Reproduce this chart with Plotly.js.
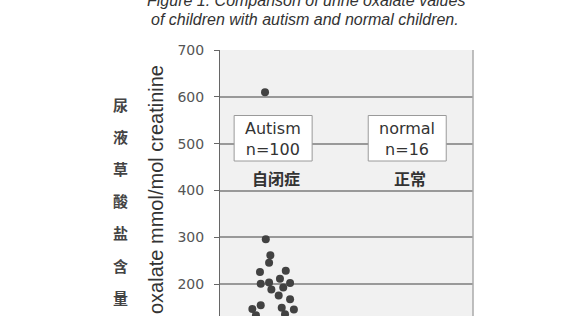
<!DOCTYPE html>
<html>
<head>
<meta charset="utf-8">
<script src="https://cdn.plot.ly/plotly-3.0.1.min.js"></script>
<style>
html,body{margin:0;padding:0;width:576px;height:316px;overflow:hidden;background:#fff;}
#chart{width:576px;height:420px;}
</style>
</head>
<body>
<div id="chart"></div>
<script>
// ---- data ----
const groups = ["Autism", "normal"];
const groupN = [100, 16];
const groupCN = ["自闭症", "正常"];
// horizontal beeswarm positions (axis units, 0..1 across the plot) and values
const autismX = [0.178, 0.181, 0.199, 0.194, 0.158, 0.260, 0.237, 0.161, 0.194, 0.277,
                 0.203, 0.250, 0.232, 0.277, 0.128, 0.161, 0.244, 0.292, 0.142, 0.257];
const autismY = [610, 296, 262, 246, 226, 229, 212, 201, 204, 203,
                 189, 193, 176, 168, 147, 155, 150, 146, 134, 136];
const groupCenterX = [0.21, 0.74];
const yTicks = [0, 100, 200, 300, 400, 500, 600, 700];
const titleLines = ["Figure 1. Comparison of urine oxalate values",
                    "of children with autism and normal children."];
const yTitle = "oxalate mmol/mol creatinine";
const yTitleCN = ["尿", "液", "草", "酸", "盐", "含", "量"];

// ---- layout helpers (pixel -> paper) ----
const W = 576, H = 420, ML = 220, MR = 576 - 473, MT = 50, MB = 42;
const PW = W - ML - MR, PH = H - MT - MB;
const px = p => (p - ML) / PW;
const py = p => (H - MB - p) / PH;

const font = "Liberation Sans, Arial, sans-serif";
const wide = "DejaVu Sans, sans-serif";
const cjk = "Noto Sans CJK SC, sans-serif";

const traces = [{
  type: "scatter", mode: "markers",
  x: autismX, y: autismY,
  marker: {size: 8, color: "#424242"},
  hoverinfo: "skip", showlegend: false
}];

const annotations = [];
const shapes = [];
titleLines.forEach((t, i) => {
  annotations.push({
    xref: "paper", yref: "paper", x: px(145 + i * 4), y: py(i === 0 ? 0 : 19),
    xanchor: "left", yanchor: "middle", showarrow: false,
    text: "<i>" + t + "</i>", font: {family: font, size: 16, color: "#333"}
  });
});
groups.forEach((g, i) => {
  const cx = groupCenterX[i];
  shapes.push({
    type: "rect", xref: "x", yref: "paper",
    x0: cx - 39 / PW, x1: cx + 39 / PW, y0: py(161), y1: py(115.5),
    fillcolor: "#ffffff", line: {color: "#9a9a9a", width: 1}, layer: "above"
  });
  annotations.push({
    xref: "x", yref: "paper", x: cx, y: py(138.5),
    xanchor: "center", yanchor: "middle", showarrow: false,
    text: g + "<br>n=" + groupN[i], font: {family: wide, size: 16, color: "#333"}
  });
  annotations.push({
    xref: "x", yref: "paper", x: cx + 0.01, y: py(178),
    xanchor: "center", yanchor: "middle", showarrow: false,
    text: "<b>" + groupCN[i] + "</b>",
    font: {family: cjk, size: 16, color: "#333"}
  });
});
annotations.push({
  xref: "paper", yref: "paper", x: px(156), y: py(190),
  xanchor: "center", yanchor: "middle", showarrow: false, textangle: -90,
  text: yTitle, font: {family: font, size: 20, color: "#333"}
});
yTitleCN.forEach((c, i) => {
  annotations.push({
    xref: "paper", yref: "paper", x: px(120), y: py(104 + i * 32.2),
    xanchor: "center", yanchor: "middle", showarrow: false,
    text: "<b>" + c + "</b>", font: {family: cjk, size: 15, color: "#444"}
  });
});
shapes.push({type: "line", xref: "paper", yref: "paper", x0: 1, x1: 1, y0: 0, y1: 1,
             line: {color: "#aaa", width: 1.5}});

const layout = {
  width: W, height: H,
  margin: {l: ML, r: MR, t: MT, b: MB, pad: 0},
  paper_bgcolor: "#ffffff", plot_bgcolor: "#f1f1f1",
  showlegend: false,
  xaxis: {range: [0, 1], showgrid: false, zeroline: false, showticklabels: false,
          ticks: "", showline: false, fixedrange: true},
  yaxis: {range: [0, 700], tickvals: yTicks, ticktext: yTicks.map(String),
          showgrid: true, gridcolor: "#999999", gridwidth: 2, zeroline: false,
          ticks: "outside", ticklen: 5, tickcolor: "#666", tickwidth: 1,
          showline: true, linecolor: "#666", linewidth: 1,
          ticklabelstandoff: 7,
          tickfont: {family: wide, size: 14, color: "#555"}},
  shapes: shapes,
  annotations: annotations
};

Plotly.newPlot("chart", traces, layout, {staticPlot: true, displayModeBar: false});
</script>
</body>
</html>
